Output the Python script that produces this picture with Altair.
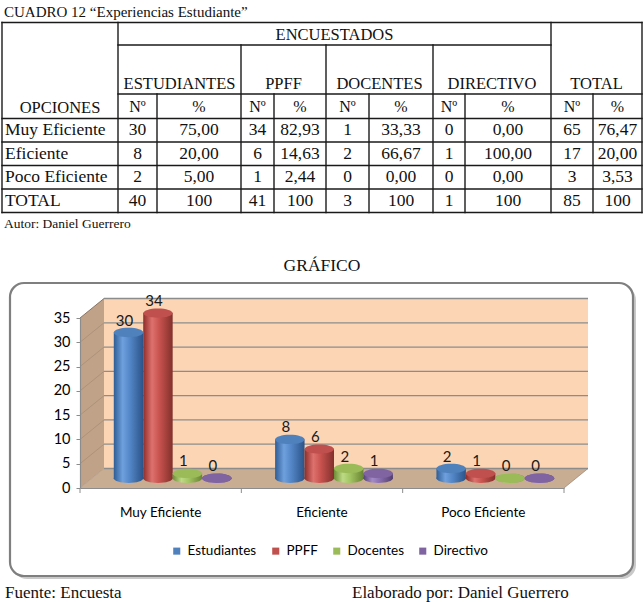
import altair as alt
import pandas as pd

W, H = 643, 602

# ---------------- text & table data ----------------
title_text = "CUADRO 12 “Experiencias Estudiante”"
autor_text = "Autor: Daniel Guerrero"
grafico_text = "GRÁFICO"
fuente_text = "Fuente: Encuesta"
elaborado_text = "Elaborado por: Daniel Guerrero"

encuestados = "ENCUESTADOS"
group_headers = ["ESTUDIANTES", "PPFF", "DOCENTES", "DIRECTIVO", "TOTAL"]
opciones_header = "OPCIONES"
sub_headers = ["Nº", "%"]

row_labels = ["Muy Eficiente", "Eficiente", "Poco Eficiente", "TOTAL"]
est_n = ["30", "8", "2", "40"]
est_pct = ["75,00", "20,00", "5,00", "100"]
ppff_n = ["34", "6", "1", "41"]
ppff_pct = ["82,93", "14,63", "2,44", "100"]
doc_n = ["1", "2", "0", "3"]
doc_pct = ["33,33", "66,67", "0,00", "100"]
dir_n = ["0", "1", "0", "1"]
dir_pct = ["0,00", "100,00", "0,00", "100"]
tot_n = ["65", "17", "3", "85"]
tot_pct = ["76,47", "20,00", "3,53", "100"]

# ---------------- chart data ----------------
categories = ["Muy Eficiente", "Eficiente", "Poco Eficiente"]
series = ["Estudiantes", "PPFF", "Docentes", "Directivo"]
estudiantes = [30, 8, 2]
ppff = [34, 6, 1]
docentes = [1, 2, 0]
directivo = [0, 1, 0]
y_ticks = [0, 5, 10, 15, 20, 25, 30, 35]
Y_MAX = 35

colors = ["#4F81BD", "#C0504D", "#9BBB59", "#8064A2"]
body_stops = [
    ["#2F5D94", "#6FA0DE", "#5386C7", "#2B5387"],
    ["#8E2D2A", "#DE716D", "#C8524E", "#82302C"],
    ["#6E8C35", "#BDDA84", "#A2C462", "#688432"],
    ["#564277", "#A38BC8", "#8A6EAF", "#523E6F"],
]

# ---------------- layout / style ----------------
SERIF = "Liberation Serif"
SANS = "Lato"
INK = "#111111"
GRID = "#8C8C8C"

COLS = [2, 118, 157, 241, 274, 326, 369, 433, 465, 551, 593, 642]
ROWS = [22.5, 45, 94, 118.5, 142, 165.5, 189, 212.5]

FX0, FX1 = 80, 564          # front plane x range
FY0, FYT = 488, 318         # front plane y range (0 .. 35)
DX, DY = 24, -19.5          # depth offset to back wall
MX0, MX1 = FX0 + DX / 2, FX1 + DX / 2
MY0, MYT = FY0 + DY / 2, FYT + DY / 2
BX0, BX1 = FX0 + DX, FX1 + DX
BY0, BYT = FY0 + DY, FYT + DY

GROUP_W = (MX1 - MX0) / 3 * (1 - 0.27)
BAR_W = GROUP_W / 4
SYM = BAR_W ** 2
_k, _c = 0.32, 0.5523
ELL = (
    f"M-1,0C-1,{-_k*_c:.4f},{-_c},{-_k},0,{-_k}"
    f"C{_c},{-_k},1,{-_k*_c:.4f},1,0"
    f"C1,{_k*_c:.4f},{_c},{_k},0,{_k}"
    f"C{-_c},{_k},-1,{_k*_c:.4f},-1,0Z"
)


def PXs():
    return alt.Scale(domain=[0, W], range=[0, W], nice=False, zero=False)


def PYs():
    return alt.Scale(domain=[0, H], range=[0, H], nice=False, zero=False)


def X(f):
    return alt.X(f, type="quantitative", scale=PXs(), axis=None)


def Y(f):
    return alt.Y(f, type="quantitative", scale=PYs(), axis=None)


def text_layer(rows, align, font, baseline="middle", color=INK):
    df = pd.DataFrame(rows)
    return alt.Chart(df).mark_text(align=align, baseline=baseline, font=font, color=color).encode(
        x=X("x"), y=Y("y"), text="t:N", size=alt.Size("fs:Q", scale=None)
    )


layers = []

# ---------------- table ----------------
lines = []


def hl(y, x0, x1):
    lines.append(dict(x=x0, x2=x1, y=y, y2=y))


def vl(x, y0, y1):
    lines.append(dict(x=x, x2=x, y=y0, y2=y1))


hl(ROWS[0], COLS[0], COLS[-1])
hl(ROWS[-1], COLS[0], COLS[-1])
vl(COLS[0], ROWS[0], ROWS[-1])
vl(COLS[-1], ROWS[0], ROWS[-1])
hl(ROWS[1], COLS[1], COLS[9])
hl(ROWS[2], COLS[1], COLS[-1])
for r in ROWS[3:7]:
    hl(r, COLS[0], COLS[-1])
vl(COLS[1], ROWS[0], ROWS[-1])
vl(COLS[9], ROWS[0], ROWS[-1])
for c in (COLS[3], COLS[5], COLS[7]):
    vl(c, ROWS[1], ROWS[-1])
for c in (COLS[2], COLS[4], COLS[6], COLS[8], COLS[10]):
    vl(c, ROWS[2], ROWS[-1])

layers.append(
    alt.Chart(pd.DataFrame(lines)).mark_rule(color="#1a1a1a", strokeWidth=1.4, strokeCap="square").encode(
        x=X("x"), x2="x2:Q", y=Y("y"), y2="y2:Q"
    )
)

centers = [(COLS[i] + COLS[i + 1]) / 2 for i in range(len(COLS) - 1)]
row_mid = [(ROWS[i] + ROWS[i + 1]) / 2 for i in range(3, 7)]
cells = [dict(x=(COLS[1] + COLS[9]) / 2, y=34.5, t=encuestados, fs=16.5)]
for name, (a, b) in zip(group_headers, [(1, 3), (3, 5), (5, 7), (7, 9), (9, 11)]):
    cells.append(dict(x=(COLS[a] + COLS[b]) / 2, y=83.5, t=name, fs=16.5))
cells.append(dict(x=centers[0], y=107.5, t=opciones_header, fs=16.5))
for k in range(1, 11):
    cells.append(dict(x=centers[k], y=106.5, t=sub_headers[(k - 1) % 2], fs=16))
table_cols = [est_n, est_pct, ppff_n, ppff_pct, doc_n, doc_pct, dir_n, dir_pct, tot_n, tot_pct]
for r in range(4):
    for k, col in enumerate(table_cols):
        cells.append(dict(x=centers[k + 1], y=row_mid[r], t=col[r], fs=17.5))
cells.append(dict(x=322, y=266, t=grafico_text, fs=17.5))
layers.append(text_layer(cells, "center", SERIF))

left_cells = [dict(x=5, y=row_mid[r], t=row_labels[r], fs=17.5) for r in range(4)]
left_cells.append(dict(x=4, y=11.5, t=title_text, fs=15))
left_cells.append(dict(x=4, y=224, t=autor_text, fs=13.5))
layers.append(text_layer(left_cells, "left", SERIF))

foot = [dict(x=5, y=598, t=fuente_text, fs=17), dict(x=352, y=598, t=elaborado_text, fs=17)]
layers.append(text_layer(foot, "left", SERIF, baseline="alphabetic"))

# ---------------- chart frame ----------------
layers.append(
    alt.Chart(pd.DataFrame([dict(x=13, x2=636, y=286, y2=579)])).mark_rect(
        cornerRadius=14, fill="#BBBBBB", opacity=0.8
    ).encode(x=X("x"), x2="x2:Q", y=Y("y"), y2="y2:Q")
)
layers.append(
    alt.Chart(pd.DataFrame([dict(x=10, x2=633, y=283, y2=576)])).mark_rect(
        cornerRadius=14, fill="#FFFFFF", stroke="#7F7F7F", strokeWidth=2.2
    ).encode(x=X("x"), x2="x2:Q", y=Y("y"), y2="y2:Q")
)

# side wall
layers.append(
    alt.Chart(pd.DataFrame([dict(x=FX0, y=FYT, y2=FY0), dict(x=BX0, y=BYT, y2=BY0)])).mark_area(
        orient="vertical", color="#BFA287"
    ).encode(x=X("x"), y=Y("y"), y2="y2:Q")
)
# floor
layers.append(
    alt.Chart(pd.DataFrame([dict(y=BY0, x=BX0, x2=BX1), dict(y=FY0, x=FX0, x2=FX1)])).mark_area(
        orient="horizontal", color="#C8AD93"
    ).encode(y=Y("y"), x=X("x"), x2="x2:Q")
)
# back wall
layers.append(
    alt.Chart(pd.DataFrame([dict(x=BX0, x2=BX1, y=BYT, y2=BY0)])).mark_rect(color="#FCD5B5").encode(
        x=X("x"), x2="x2:Q", y=Y("y"), y2="y2:Q"
    )
)
# back wall grid lines
layers.append(
    alt.Chart(pd.DataFrame({"v": y_ticks})).mark_rule(color=GRID, strokeWidth=1.3).encode(
        y=alt.Y("v:Q", scale=alt.Scale(domain=[0, Y_MAX], range=[BY0, BYT], nice=False, zero=False), axis=None),
        x=alt.value(BX0),
        x2=alt.value(BX1),
    )
)
# diagonals on side wall and right floor edge
diag = []
for v in y_ticks:
    yf = FY0 + (FYT - FY0) * v / Y_MAX
    diag.append(dict(x=FX0, y=yf, x2=BX0, y2=yf + DY, o=1.0 if v == Y_MAX else 0.35))
diag.append(dict(x=FX1, y=FY0, x2=BX1, y2=BY0, o=0.6))
layers.append(
    alt.Chart(pd.DataFrame(diag)).mark_rule(color="#8C7460", strokeWidth=1).encode(
        x=X("x"), x2="x2:Q", y=Y("y"), y2="y2:Q", opacity=alt.Opacity("o:Q", scale=None)
    )
)
# x ticks at band boundaries
xt = [dict(x=FX0 + k * (FX1 - FX0) / 3, y=FY0, y2=FY0 + 5) for k in range(4)]
layers.append(
    alt.Chart(pd.DataFrame(xt)).mark_rule(color=GRID, strokeWidth=1).encode(x=X("x"), y=Y("y"), y2="y2:Q")
)

# axes (front plane)
axis_df = pd.DataFrame({"cat": categories, "v": [0, 0, 0]})
layers.append(
    alt.Chart(axis_df).mark_point(opacity=0).encode(
        x=alt.X(
            "cat:N",
            sort=categories,
            title=None,
            scale=alt.Scale(type="band", domain=categories, range=[FX0, FX1], paddingInner=0, paddingOuter=0),
            axis=alt.Axis(
                orient="bottom", offset=-(H - FY0), ticks=False, domainColor=GRID, domainWidth=1.2,
                labelFont=SANS, labelFontSize=13.5, labelColor="#000000", labelPadding=17, labelAngle=0,
                zindex=2,
            ),
        ),
        y=alt.Y(
            "v:Q",
            title=None,
            scale=alt.Scale(domain=[0, Y_MAX], range=[FY0, FYT], nice=False, zero=False),
            axis=alt.Axis(
                orient="left", offset=-FX0, values=y_ticks, tickSize=4, tickColor=GRID, domainColor=GRID,
                domainWidth=1.2, labelFont=SANS, labelFontSize=14.5, labelColor="#000000", labelPadding=6,
                grid=False, zindex=2,
            ),
        ),
    )
)

# ---------------- cylinders ----------------
vals = [estudiantes, ppff, docentes, directivo]
bar_rows = []
for s, v in zip(series, vals):
    for i, c in enumerate(categories):
        bar_rows.append(dict(cat=c, series=s, value=v[i], base=0))
bars_df = pd.DataFrame(bar_rows)


def mid_x():
    return alt.X(
        "cat:N", sort=categories,
        scale=alt.Scale(type="band", domain=categories, range=[MX0, MX1], paddingInner=0.27, paddingOuter=0.135),
        axis=None,
    )


def mid_off():
    return alt.XOffset(
        "series:N",
        scale=alt.Scale(type="band", domain=series, range=[0, GROUP_W], paddingInner=0, paddingOuter=0),
    )


def mid_y(f):
    return alt.Y(f, type="quantitative",
                 scale=alt.Scale(domain=[0, Y_MAX], range=[MY0, MYT], nice=False, zero=False), axis=None)


def grad(stops):
    offs = [0, 0.3, 0.55, 1]
    return alt.LinearGradient(
        gradient="linear",
        stops=[alt.GradientStop(offset=o, color=c) for o, c in zip(offs, stops)],
        x1=0, x2=1, y1=0, y2=0,
    )


for s, stops in zip(series, body_stops):
    sub = alt.Chart(bars_df).transform_filter(alt.datum.series == s)
    layers.append(
        sub.mark_point(shape=ELL, size=SYM, filled=True, fill=grad(stops), opacity=1, strokeWidth=0).encode(
            x=mid_x(), xOffset=mid_off(), y=mid_y("base")
        )
    )
    layers.append(
        sub.mark_bar(fill=grad(stops), strokeWidth=0).encode(
            x=mid_x(), xOffset=mid_off(), y=mid_y("value"), y2="base:Q"
        )
    )

layers.append(
    alt.Chart(bars_df).mark_point(shape=ELL, size=SYM, filled=True, opacity=1, strokeWidth=0).encode(
        x=mid_x(), xOffset=mid_off(), y=mid_y("value"),
        color=alt.Color(
            "series:N",
            title=None,
            scale=alt.Scale(domain=series, range=colors),
            legend=alt.Legend(
                orient="none", legendX=170, legendY=544, direction="horizontal", symbolType="square",
                symbolSize=50, symbolStrokeWidth=0, labelFont=SANS, labelFontSize=13.5, labelColor="#000000",
                columnPadding=12, labelOffset=4, padding=0,
            ),
        ),
    )
)

layers.append(
    alt.Chart(bars_df).mark_text(font=SANS, fontSize=15, color="#1A1A1A", dy=-12, dx=-4,
                                 baseline="middle").encode(
        x=mid_x(), xOffset=mid_off(), y=mid_y("value"), text="value:Q"
    )
)

chart = (
    alt.layer(*layers)
    .resolve_scale(x="independent", y="independent", color="independent", xOffset="independent")
    .properties(width=W, height=H, autosize=alt.AutoSizeParams(type="none"), padding=0, background="#FFFFFF")
    .configure_view(stroke=None)
)

chart.save("out.html", embed_options={"renderer": "svg", "actions": False})
